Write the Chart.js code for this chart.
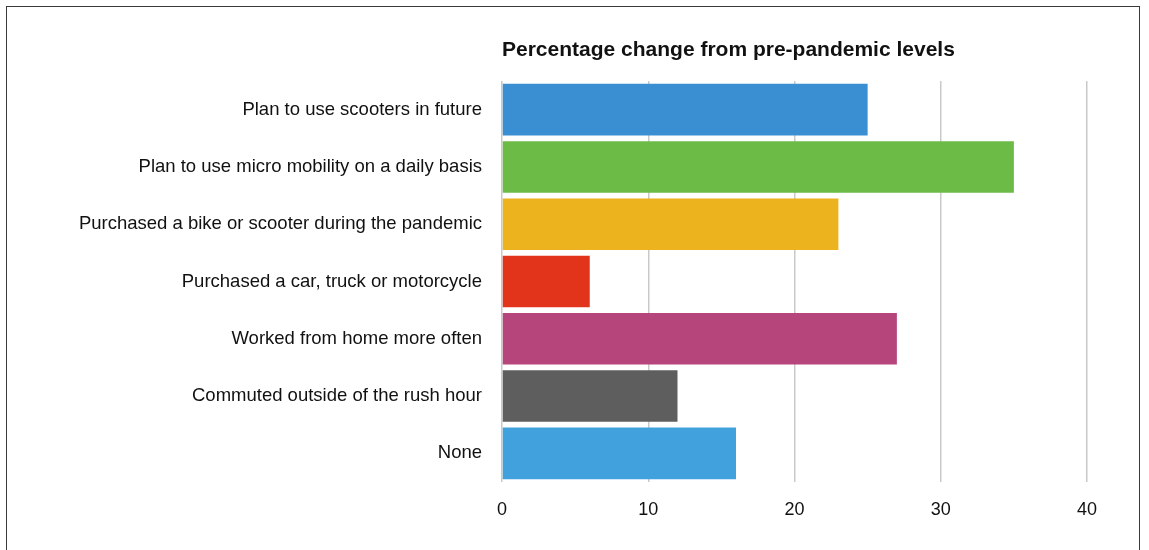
<!DOCTYPE html>
<html>
<head>
<meta charset="utf-8">
<script src="https://cdn.jsdelivr.net/npm/chart.js@4.4.1/dist/chart.umd.min.js"></script>
<style>
  html, body { margin: 0; padding: 0; background: #ffffff; }
  #wrap { position: relative; width: 1149px; height: 550px; overflow: hidden; }
  #frame {
    position: absolute; left: 6px; top: 6px; width: 1132px; height: 600px;
    border: 1.5px solid #3a3a3a; border-bottom: none; box-sizing: content-box;
  }
  canvas { position: absolute; left: 0; top: 0; }
</style>
</head>
<body>
<div id="wrap">
  <div id="frame"></div>
  <canvas id="chart" width="1149" height="550"></canvas>
</div>
<script>
const chartTitle = 'Percentage change from pre-pandemic levels';

const categories = [
  'Plan to use scooters in future',
  'Plan to use micro mobility on a daily basis',
  'Purchased a bike or scooter during the pandemic',
  'Purchased a car, truck or motorcycle',
  'Worked from home more often',
  'Commuted outside of the rush hour',
  'None'
];

const values = [25, 35, 23, 6, 27, 12, 16];

const barColors = ['#3a8fd2', '#6cbb46', '#ecb31e', '#e2341a', '#b5457b', '#5e5e5e', '#40a1dc'];

const xTicks = [0, 10, 20, 30, 40];

const FONT = '"Liberation Sans", Arial, Helvetica, sans-serif';

// Title sits left-aligned with the plot area rather than the canvas
const leftTitle = {
  id: 'leftTitle',
  afterDraw(chart) {
    const { ctx, chartArea } = chart;
    ctx.save();
    ctx.font = 'bold 21px ' + FONT;
    ctx.fillStyle = '#111111';
    ctx.textAlign = 'left';
    ctx.textBaseline = 'middle';
    ctx.fillText(chartTitle, chartArea.left, 50);
    ctx.restore();
  }
};

new Chart(document.getElementById('chart'), {
  type: 'bar',
  data: {
    labels: categories,
    datasets: [{
      data: values,
      backgroundColor: barColors,
      borderWidth: 0,
      categoryPercentage: 1,
      barPercentage: 0.9
    }]
  },
  options: {
    indexAxis: 'y',
    responsive: false,
    animation: false,
    devicePixelRatio: 1,
    layout: { padding: { top: 81, right: 62, left: 0, bottom: 0 } },
    plugins: {
      legend: { display: false },
      title: { display: false },
      tooltip: { enabled: false }
    },
    scales: {
      x: {
        min: 0,
        max: 40,
        afterBuildTicks(scale) {
          scale.ticks = xTicks.map(v => ({ value: v }));
        },
        afterFit(scale) { scale.height = 68; },
        grid: { color: '#c9c9c9', lineWidth: 1.5, drawTicks: false },
        border: { display: false },
        ticks: {
          padding: 17,
          color: '#111111',
          font: { family: FONT, size: 18 }
        }
      },
      y: {
        afterFit(scale) { scale.width = 502; },
        grid: { display: false, drawTicks: false },
        border: { display: false },
        ticks: {
          padding: 20,
          color: '#111111',
          font: { family: FONT, size: 18.5 }
        }
      }
    }
  },
  plugins: [leftTitle]
});
</script>
</body>
</html>
